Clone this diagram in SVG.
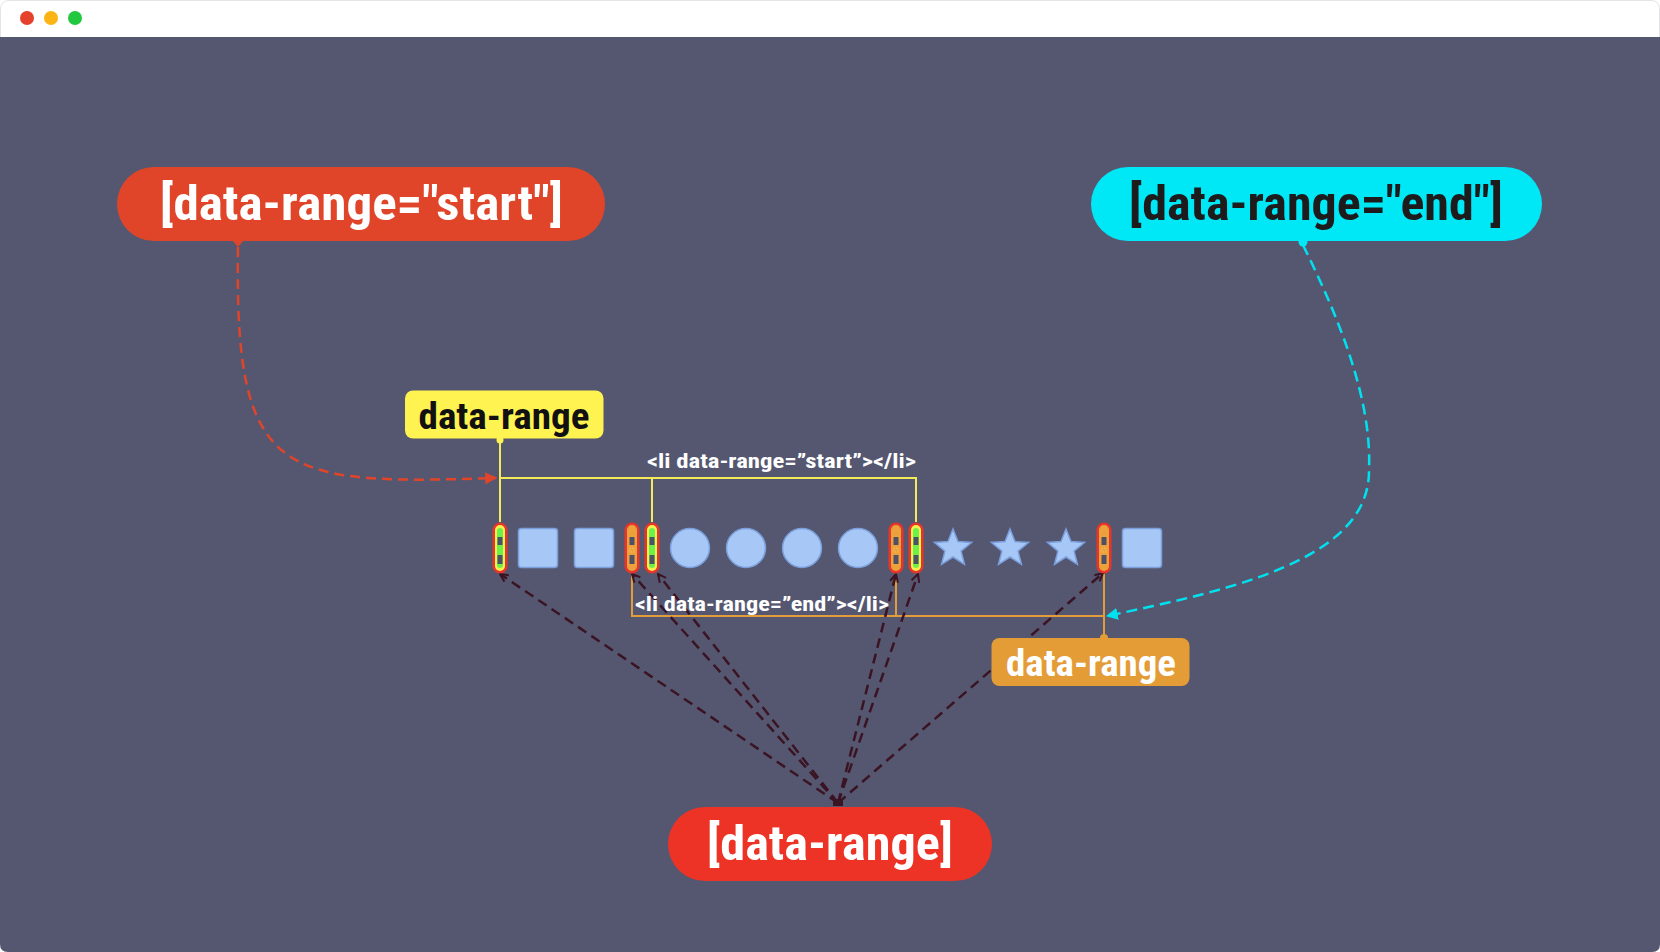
<svg xmlns="http://www.w3.org/2000/svg" width="1660" height="952" viewBox="0 0 1660 952">
<style>
  .t { font-family: 'Roboto Condensed','Liberation Sans Narrow','DejaVu Sans Condensed',Roboto,sans-serif; font-weight: 700; }
  .shape { fill: #a7c8f6; stroke: #7b9fdc; stroke-width: 1.5; }
  .yl { stroke: #f3ea5a; stroke-width: 2; fill: none; }
  .ol { stroke: #e39c3a; stroke-width: 2; fill: none; }
  .dk { stroke: #3b1424; stroke-width: 2.5; fill: none; stroke-dasharray: 10 6; }
</style>
<defs>
  <marker id="arrDark" viewBox="0 0 10 10" refX="9" refY="5" markerWidth="10" markerHeight="10" orient="auto" markerUnits="userSpaceOnUse">
    <path d="M1,1 L9,5 L1,9" fill="none" stroke="#3b1424" stroke-width="2"/>
  </marker>
  <marker id="arrRed" viewBox="0 0 10 10" refX="9" refY="5" markerWidth="12" markerHeight="12" orient="auto" markerUnits="userSpaceOnUse">
    <path d="M0,0 L10,5 L0,10 Z" fill="#e0452a"/>
  </marker>
  <marker id="arrCyan" viewBox="0 0 10 10" refX="9" refY="5" markerWidth="12" markerHeight="12" orient="auto" markerUnits="userSpaceOnUse">
    <path d="M0,0 L10,5 L0,10 Z" fill="#00e1f0"/>
  </marker>
  <g id="itemY">
    <rect x="-7.5" y="-25.5" width="15" height="51" rx="7.5" fill="#e8352a"/>
    <rect x="-5" y="-23" width="10" height="46" rx="5" fill="#f6f04e"/>
    <rect x="-3" y="-20" width="6" height="40" rx="3" fill="#6cf04a"/>
    <rect x="-2.5" y="-11" width="5" height="8" fill="#4e5068"/>
    <rect x="-2.5" y="7" width="5" height="9" fill="#4e5068"/>
  </g>
  <g id="itemO">
    <rect x="-7.5" y="-25.5" width="15" height="51" rx="7.5" fill="#e8352a"/>
    <rect x="-5" y="-23" width="10" height="46" rx="5" fill="#eca23c"/>
    <rect x="-2.5" y="-11" width="5" height="8" fill="#4e5068"/>
    <rect x="-2.5" y="7" width="5" height="9" fill="#4e5068"/>
    <rect x="-2" y="0" width="4" height="4" fill="none" stroke="#f6c070" stroke-width="0.8" stroke-dasharray="1 1"/>
  </g>
  <polygon id="star" class="shape" stroke="none" points="0,-19.5 5,-6.9 18.55,-6.03 8.08,2.63 11.46,15.78 0,8.5 -11.46,15.78 -8.08,2.63 -18.55,-6.03 -5,-6.9"/>
</defs>

<!-- window -->
<rect x="0" y="0" width="1660" height="952" fill="#ffffff"/>
<rect x="0.5" y="0.5" width="1659" height="951" rx="8" fill="#ffffff" stroke="#e4e4e8"/>
<path d="M0,37 H1660 V944 Q1660,952 1652,952 H8 Q0,952 0,944 Z" fill="#555771"/>
<circle cx="27" cy="18" r="7" fill="#e5412d"/>
<circle cx="51" cy="18" r="7" fill="#fbb414"/>
<circle cx="75" cy="18" r="7" fill="#22c840"/>

<!-- connectors -->
<g id="connectors">
  <path d="M238,247 C234,480 280,485 496,478" fill="none" stroke="#e0452a" stroke-width="2.5" stroke-dasharray="10 6" marker-end="url(#arrRed)"/>
  <path d="M1303,245 C1340,320 1372,400 1369,470 C1370,560 1230,590 1107,616" fill="none" stroke="#00e1f0" stroke-width="2.5" stroke-dasharray="11 6" marker-end="url(#arrCyan)"/>
  <path class="yl" d="M500,441 V522 M500,478 H916 V522 M652,478 V522"/>
  <path class="ol" d="M632,574 V616 H1104 M896,574 V616 M1104,574 V638"/>
  <line class="dk" x1="838" y1="803" x2="500" y2="574" marker-end="url(#arrDark)"/>
  <line class="dk" x1="838" y1="803" x2="632" y2="574" marker-end="url(#arrDark)"/>
  <line class="dk" x1="838" y1="803" x2="658" y2="574" marker-end="url(#arrDark)"/>
  <line class="dk" x1="838" y1="803" x2="896" y2="574" marker-end="url(#arrDark)"/>
  <line class="dk" x1="838" y1="803" x2="918" y2="574" marker-end="url(#arrDark)"/>
  <line class="dk" x1="838" y1="803" x2="1103" y2="573" marker-end="url(#arrDark)"/>
  <rect x="833" y="799" width="10" height="7" fill="#3b1424"/>
</g>

<!-- list items -->
<g id="items">
  <use href="#itemY" x="500" y="548"/>
  <rect class="shape" x="518.5" y="528.5" width="39" height="39" rx="3"/>
  <rect class="shape" x="574.5" y="528.5" width="39" height="39" rx="3"/>
  <use href="#itemO" x="632" y="548"/>
  <use href="#itemY" x="652" y="548"/>
  <circle class="shape" cx="690" cy="548" r="19.5"/>
  <circle class="shape" cx="746" cy="548" r="19.5"/>
  <circle class="shape" cx="802" cy="548" r="19.5"/>
  <circle class="shape" cx="858" cy="548" r="19.5"/>
  <use href="#itemO" x="896" y="548"/>
  <use href="#itemY" x="916" y="548"/>
  <use href="#star" x="953" y="548.5"/>
  <use href="#star" x="1010" y="548.5"/>
  <use href="#star" x="1066" y="548.5"/>
  <use href="#itemO" x="1104" y="548"/>
  <rect class="shape" x="1122.5" y="528.5" width="39" height="39" rx="3"/>
</g>

<g id="code-labels">
  <text class="t" x="647" y="468" font-size="21" fill="#ffffff" textLength="269" lengthAdjust="spacingAndGlyphs">&lt;li data-range=”start”&gt;&lt;/li&gt;</text>
  <text class="t" x="635" y="611" font-size="21" fill="#ffffff" textLength="254" lengthAdjust="spacingAndGlyphs">&lt;li data-range=”end”&gt;&lt;/li&gt;</text>
</g>

<g id="node-start">
  <rect x="117" y="167" width="488" height="74" rx="37" fill="#e0452a"/>
  <path d="M232,240 L238,247 L244,240 Z" fill="#e0452a"/>
  <text class="t" x="160" y="220" font-size="49" fill="#ffffff" textLength="403" lengthAdjust="spacingAndGlyphs">[data-range="start"]</text>
</g>

<g id="node-end">
  <rect x="1091" y="167" width="451" height="74" rx="37" fill="#00e8f6"/>
  <circle cx="1303" cy="242" r="4.5" fill="#00e8f6"/>
  <text class="t" x="1129" y="220" font-size="49" fill="#1e1b1d" textLength="374" lengthAdjust="spacingAndGlyphs">[data-range="end"]</text>
</g>

<g id="node-yellow">
  <rect x="405" y="390.5" width="198.5" height="48" rx="8" fill="#fff352"/>
  <circle cx="500" cy="440" r="3.5" fill="#fff352"/>
  <text class="t" x="418.5" y="429" font-size="36" fill="#111111" textLength="171" lengthAdjust="spacingAndGlyphs">data-range</text>
</g>

<g id="node-orange">
  <rect x="991.5" y="638" width="198" height="48" rx="8" fill="#e39c36"/>
  <circle cx="1104" cy="638" r="4" fill="#e39c36"/>
  <text class="t" x="1006" y="676" font-size="36" fill="#ffffff" textLength="170" lengthAdjust="spacingAndGlyphs">data-range</text>
</g>

<g id="node-bottom">
  <rect x="668" y="807" width="324" height="74" rx="37" fill="#ec3326"/>
  <text class="t" x="707" y="860" font-size="49" fill="#ffffff" textLength="246" lengthAdjust="spacingAndGlyphs">[data-range]</text>
</g>
</svg>
